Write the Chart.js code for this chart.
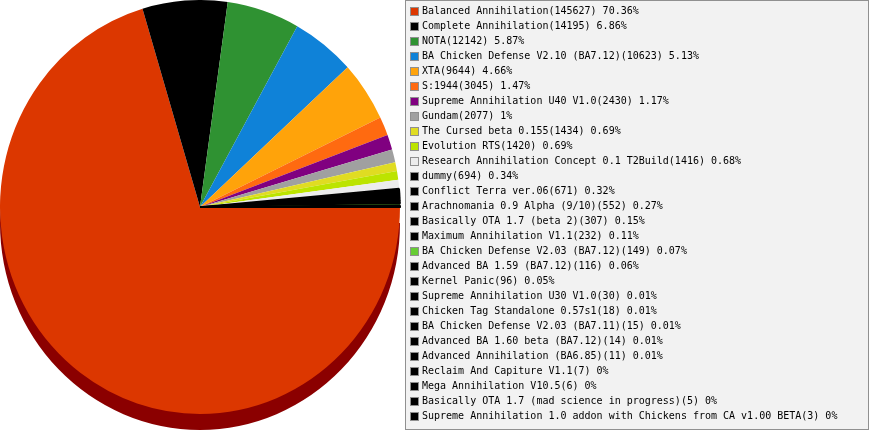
<!DOCTYPE html>
<html>
<head>
<meta charset="utf-8">
<style>
html,body{margin:0;padding:0;background:#fff;overflow:hidden}
#wrap{position:relative;width:869px;height:430px}
</style>
<script src="https://cdn.jsdelivr.net/npm/chart.js@4"></script>
</head>
<body>
<div id="wrap"><canvas id="c"></canvas></div>
<script>
const categories = ["Balanced Annihilation","Complete Annihilation","NOTA","BA Chicken Defense V2.10 (BA7.12)","XTA","S:1944","Supreme Annihilation U40 V1.0","Gundam","The Cursed beta 0.155","Evolution RTS","Research Annihilation Concept 0.1 T2Build","dummy","Conflict Terra ver.06","Arachnomania 0.9 Alpha (9/10)","Basically OTA 1.7 (beta 2)","Maximum Annihilation V1.1","BA Chicken Defense V2.03 (BA7.12)","Advanced BA 1.59 (BA7.12)","Kernel Panic","Supreme Annihilation U30 V1.0","Chicken Tag Standalone 0.57s1","BA Chicken Defense V2.03 (BA7.11)","Advanced BA 1.60 beta (BA7.12)","Advanced Annihilation (BA6.85)","Reclaim And Capiture V1.1","Mega Annihilation V10.5","Basically OTA 1.7 (mad science in progress)","Supreme Annihilation 1.0 addon with Chickens from CA v1.00 BETA"];
const values = [145627,14195,12142,10623,9644,3045,2430,2077,1434,1420,1416,694,671,552,307,232,149,116,96,30,18,15,14,11,7,6,5,3];
const percents = ["70.36","6.86","5.87","5.13","4.66","1.47","1.17","1","0.69","0.69","0.68","0.34","0.32","0.27","0.15","0.11","0.07","0.06","0.05","0.01","0.01","0.01","0.01","0.01","0","0","0","0"];
const colors = ["#dc3700","#000000","#2f9232","#0f82d8","#ffa30a","#ff6a10","#800080","#a0a0a0","#e0dc22","#bce400","#ececec","#000000","#000000","#000000","#000000","#000000","#66cc33","#000000","#000000","#000000","#000000","#000000","#000000","#000000","#000000","#000000","#000000","#000000"];
const depthColor = "#8b0000";

function swatch(color){
  const cv=document.createElement('canvas');
  cv.width=18;cv.height=10;
  const x=cv.getContext('2d');
  x.fillStyle='#8f8f8f';x.fillRect(8,1,9,9);
  x.fillStyle=color;x.fillRect(9,2,7,7);
  return cv;
}
function pieTransform(ctx,el){
  ctx.translate(el.x,207);
  ctx.scale(200/el.outerRadius,207/el.outerRadius);
  ctx.translate(-el.x,-el.y);
}
const pie3d={
  id:'pie3d',
  beforeLayout(chart){
    const lg=chart.legend;
    if(lg && !lg._w){
      const f=lg.fit;
      lg.fit=function(){f.call(this);this.width=469;};
      lg._w=true;
    }
  },
  beforeDraw(chart){
    const ctx=chart.ctx,x0=chart.legend.left+5;
    ctx.save();
    ctx.fillStyle='#f2f2f2';
    ctx.fillRect(x0,0,chart.width-x0,430);
    ctx.strokeStyle='#909090';
    ctx.lineWidth=1;
    ctx.strokeRect(x0+.5,.5,chart.width-x0-1,429);
    ctx.restore();
  },
  beforeDatasetsDraw(chart){
    const ctx=chart.ctx,el=chart.getDatasetMeta(0).data[0];
    ctx.save();
    ctx.translate(0,16);
    pieTransform(ctx,el);
    ctx.fillStyle=depthColor;
    ctx.beginPath();
    ctx.moveTo(el.x,el.y);
    ctx.arc(el.x,el.y,el.outerRadius,el.startAngle,el.endAngle);
    ctx.closePath();
    ctx.fill();
    ctx.restore();
    ctx.save();
    pieTransform(ctx,el);
  },
  afterDatasetsDraw(chart){
    chart.ctx.restore();
  }
};
new Chart(document.getElementById('c'),{
  type:'pie',
  data:{
    labels:categories,
    datasets:[{data:values,backgroundColor:colors,borderColor:colors,borderWidth:values.map((v,i)=>(v<1000&&colors[i]==="#000000")?1.5:0)}]
  },
  options:{
    responsive:true,
    maintainAspectRatio:false,
    animation:false,
    rotation:90,
    layout:{padding:{top:1}},
    plugins:{
      tooltip:{enabled:false},
      legend:{
        position:'right',
        align:'start',
        onClick:null,
        labels:{
          font:{family:'"DejaVu Sans Mono"',size:10},
          color:'#000000',
          usePointStyle:true,
          pointStyleWidth:12,
          boxHeight:10,
          padding:5,
          generateLabels(){
            return categories.map((c,i)=>({
              text:`${c}(${values[i]}) ${percents[i]}%`,
              fillStyle:colors[i],
              strokeStyle:colors[i],
              lineWidth:0,
              pointStyle:swatch(colors[i]),
              index:i,
              hidden:false
            }));
          }
        }
      }
    }
  },
  plugins:[pie3d]
});
</script>
</body>
</html>
